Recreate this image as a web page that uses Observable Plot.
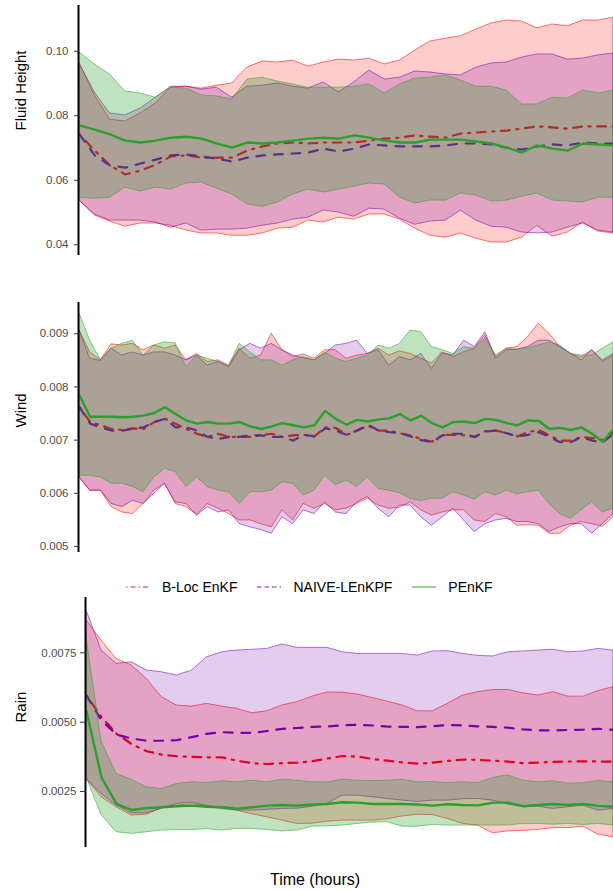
<!DOCTYPE html>
<html><head><meta charset="utf-8">
<script src="https://cdn.jsdelivr.net/npm/d3@7"></script>
<script src="https://cdn.jsdelivr.net/npm/@observablehq/plot@0.6"></script>
<style>
body{margin:0;background:#fff;font-family:"Liberation Sans",Arial,sans-serif;}
#fig{position:relative;width:613px;height:891px;overflow:hidden;background:#fff;}
.panel{position:absolute;left:0;}
#legend{position:absolute;top:579px;left:126px;display:flex;align-items:center;font-size:14px;line-height:16px;color:#000;white-space:nowrap;}
#xtitle{position:absolute;top:871px;left:315px;transform:translateX(-50%);font-size:16px;line-height:17px;color:#000;white-space:nowrap;}
</style></head>
<body><div id="fig"></div>
<script>
// ---------- series names ----------
const seriesNames = ["B-Loc EnKF", "NAIVE-LEnKPF", "PEnKF"];
const xTitle = "Time (hours)";
const panelLabels = ["Fluid Height", "Wind", "Rain"];

// ---------- time samples ----------
const hours36 = [0,1,2,3,4,5,6,7,8,9,10,11,12,13,14,15,16,17,18,19,20,21,22,23,24,25,26,27,28,29,30,31,32,33,34,35];
const hours51 = [0,0.7,1.4,2.1,2.8,3.5,4.2,4.9,5.6,6.3,7,7.7,8.4,9.1,9.8,10.5,11.2,11.9,12.6,13.3,14,14.7,15.4,16.1,16.8,17.5,18.2,18.9,19.6,20.3,21,21.7,22.4,23.1,23.8,24.5,25.2,25.9,26.6,27.3,28,28.7,29.4,30.1,30.8,31.5,32.2,32.9,33.6,34.3,35];

// ---------- Fluid Height ----------
const fhRedHi  = [0.0962,0.0863,0.0788,0.0782,0.0807,0.0838,0.0887,0.0890,0.0884,0.0893,0.0900,0.0949,0.0968,0.0965,0.0971,0.0952,0.0965,0.0974,0.0971,0.0977,0.0959,0.0971,0.1002,0.1030,0.1039,0.1046,0.1067,0.1086,0.1095,0.1092,0.1071,0.1083,0.1077,0.1095,0.1095,0.1104];
const fhRedLo  = [0.0537,0.0491,0.0472,0.0456,0.0466,0.0466,0.0459,0.0444,0.0435,0.0435,0.0428,0.0428,0.0435,0.0450,0.0453,0.0475,0.0469,0.0484,0.0478,0.0494,0.0494,0.0478,0.0450,0.0428,0.0422,0.0435,0.0419,0.0407,0.0407,0.0422,0.0459,0.0425,0.0438,0.0469,0.0441,0.0435];
const fhRedMean= [0.0742,0.0692,0.0646,0.0618,0.0630,0.0649,0.0674,0.0677,0.0670,0.0670,0.0670,0.0692,0.0705,0.0714,0.0717,0.0714,0.0717,0.0717,0.0717,0.0723,0.0729,0.0732,0.0739,0.0735,0.0732,0.0745,0.0748,0.0751,0.0754,0.0760,0.0767,0.0764,0.0760,0.0767,0.0767,0.0767];
const fhPurHi  = [0.0962,0.0872,0.0807,0.0801,0.0822,0.0856,0.0890,0.0890,0.0881,0.0887,0.0856,0.0890,0.0893,0.0900,0.0890,0.0884,0.0903,0.0872,0.0903,0.0940,0.0912,0.0918,0.0937,0.0934,0.0928,0.0925,0.0949,0.0962,0.0965,0.0980,0.0990,0.0990,0.0974,0.0977,0.0987,0.0993];
const fhPurLo  = [0.0537,0.0494,0.0475,0.0475,0.0475,0.0469,0.0453,0.0466,0.0444,0.0447,0.0447,0.0450,0.0459,0.0466,0.0478,0.0484,0.0506,0.0500,0.0487,0.0512,0.0509,0.0481,0.0462,0.0472,0.0475,0.0506,0.0475,0.0456,0.0453,0.0438,0.0435,0.0438,0.0453,0.0466,0.0444,0.0438];
const fhPurMean= [0.0742,0.0677,0.0646,0.0639,0.0652,0.0664,0.0677,0.0680,0.0674,0.0667,0.0658,0.0670,0.0677,0.0680,0.0683,0.0686,0.0698,0.0689,0.0698,0.0711,0.0708,0.0705,0.0705,0.0705,0.0708,0.0714,0.0714,0.0711,0.0701,0.0695,0.0705,0.0711,0.0708,0.0717,0.0714,0.0714];
const fhGrnHi  = [0.0996,0.0959,0.0928,0.0875,0.0869,0.0856,0.0887,0.0884,0.0863,0.0860,0.0850,0.0912,0.0918,0.0906,0.0897,0.0887,0.0887,0.0887,0.0890,0.0897,0.0869,0.0897,0.0915,0.0918,0.0925,0.0909,0.0890,0.0890,0.0878,0.0835,0.0835,0.0856,0.0853,0.0878,0.0869,0.0878];
const fhGrnLo  = [0.0546,0.0543,0.0546,0.0577,0.0565,0.0577,0.0571,0.0590,0.0593,0.0574,0.0556,0.0525,0.0518,0.0531,0.0556,0.0571,0.0562,0.0571,0.0580,0.0590,0.0587,0.0546,0.0528,0.0537,0.0537,0.0559,0.0553,0.0534,0.0537,0.0549,0.0559,0.0537,0.0534,0.0531,0.0546,0.0546];
const fhGrnMean= [0.0770,0.0757,0.0742,0.0723,0.0717,0.0723,0.0732,0.0735,0.0729,0.0714,0.0701,0.0717,0.0714,0.0717,0.0723,0.0729,0.0732,0.0729,0.0739,0.0732,0.0723,0.0717,0.0717,0.0726,0.0726,0.0726,0.0720,0.0714,0.0701,0.0686,0.0708,0.0698,0.0692,0.0714,0.0711,0.0708];

// ---------- Wind ----------
const wRedHi  = [0.00906,0.00865,0.00850,0.00880,0.00878,0.00881,0.00869,0.00878,0.00872,0.00878,0.00850,0.00862,0.00847,0.00850,0.00840,0.00872,0.00853,0.00859,0.00900,0.00869,0.00856,0.00861,0.00853,0.00869,0.00869,0.00853,0.00859,0.00862,0.00872,0.00859,0.00867,0.00862,0.00853,0.00844,0.00865,0.00856,0.00865,0.00872,0.00897,0.00856,0.00872,0.00875,0.00894,0.00919,0.00900,0.00875,0.00862,0.00856,0.00869,0.00847,0.00859];
const wRedLo  = [0.00630,0.00605,0.00605,0.00574,0.00564,0.00561,0.00580,0.00605,0.00618,0.00580,0.00574,0.00560,0.00580,0.00571,0.00561,0.00549,0.00549,0.00542,0.00536,0.00568,0.00549,0.00580,0.00571,0.00580,0.00568,0.00571,0.00580,0.00590,0.00577,0.00571,0.00573,0.00583,0.00568,0.00558,0.00564,0.00568,0.00568,0.00549,0.00546,0.00561,0.00555,0.00539,0.00540,0.00539,0.00524,0.00524,0.00539,0.00546,0.00542,0.00537,0.00555];
const wRedMean= [0.00762,0.00734,0.00728,0.00721,0.00719,0.00722,0.00721,0.00734,0.00740,0.00731,0.00721,0.00712,0.00706,0.00712,0.00706,0.00706,0.00706,0.00709,0.00712,0.00706,0.00709,0.00710,0.00707,0.00724,0.00723,0.00710,0.00718,0.00727,0.00718,0.00718,0.00713,0.00709,0.00702,0.00697,0.00710,0.00710,0.00709,0.00706,0.00717,0.00718,0.00713,0.00707,0.00715,0.00719,0.00709,0.00699,0.00699,0.00706,0.00704,0.00700,0.00715];
const wPurHi  = [0.00906,0.00853,0.00849,0.00872,0.00859,0.00865,0.00859,0.00865,0.00865,0.00859,0.00850,0.00859,0.00840,0.00847,0.00837,0.00869,0.00881,0.00872,0.00881,0.00869,0.00859,0.00854,0.00850,0.00862,0.00878,0.00881,0.00887,0.00862,0.00869,0.00840,0.00856,0.00850,0.00862,0.00834,0.00863,0.00859,0.00887,0.00875,0.00903,0.00853,0.00869,0.00870,0.00875,0.00887,0.00887,0.00875,0.00863,0.00850,0.00869,0.00850,0.00862];
const wPurLo  = [0.00630,0.00605,0.00605,0.00580,0.00574,0.00586,0.00580,0.00599,0.00618,0.00583,0.00580,0.00558,0.00574,0.00564,0.00568,0.00542,0.00536,0.00531,0.00524,0.00555,0.00542,0.00568,0.00561,0.00583,0.00564,0.00561,0.00583,0.00593,0.00571,0.00555,0.00577,0.00577,0.00555,0.00539,0.00555,0.00571,0.00549,0.00527,0.00542,0.00549,0.00552,0.00546,0.00546,0.00542,0.00527,0.00536,0.00542,0.00542,0.00524,0.00542,0.00561];
const wPurMean= [0.00762,0.00731,0.00724,0.00718,0.00718,0.00721,0.00724,0.00734,0.00740,0.00724,0.00724,0.00718,0.00706,0.00702,0.00706,0.00706,0.00709,0.00709,0.00706,0.00706,0.00699,0.00710,0.00707,0.00722,0.00718,0.00710,0.00718,0.00729,0.00718,0.00715,0.00713,0.00707,0.00700,0.00696,0.00709,0.00712,0.00712,0.00706,0.00716,0.00718,0.00713,0.00707,0.00710,0.00715,0.00706,0.00696,0.00696,0.00706,0.00699,0.00696,0.00712];
const wGrnHi  = [0.00938,0.00887,0.00850,0.00872,0.00881,0.00887,0.00859,0.00878,0.00884,0.00882,0.00837,0.00859,0.00853,0.00847,0.00840,0.00881,0.00865,0.00850,0.00850,0.00840,0.00850,0.00856,0.00850,0.00865,0.00853,0.00847,0.00853,0.00859,0.00878,0.00872,0.00881,0.00906,0.00903,0.00875,0.00869,0.00862,0.00875,0.00872,0.00891,0.00859,0.00872,0.00870,0.00873,0.00878,0.00884,0.00878,0.00862,0.00859,0.00859,0.00872,0.00884];
const wGrnLo  = [0.00633,0.00633,0.00630,0.00618,0.00618,0.00612,0.00602,0.00630,0.00646,0.00640,0.00612,0.00630,0.00612,0.00605,0.00602,0.00580,0.00602,0.00602,0.00605,0.00621,0.00618,0.00596,0.00605,0.00633,0.00615,0.00624,0.00612,0.00630,0.00608,0.00605,0.00600,0.00590,0.00585,0.00590,0.00590,0.00602,0.00596,0.00588,0.00602,0.00596,0.00605,0.00598,0.00602,0.00605,0.00580,0.00561,0.00552,0.00568,0.00583,0.00564,0.00571];
const wGrnMean= [0.00784,0.00744,0.00744,0.00744,0.00743,0.00744,0.00746,0.00751,0.00762,0.00749,0.00737,0.00731,0.00734,0.00731,0.00731,0.00734,0.00726,0.00721,0.00726,0.00732,0.00728,0.00724,0.00728,0.00755,0.00740,0.00729,0.00738,0.00735,0.00739,0.00741,0.00749,0.00737,0.00746,0.00732,0.00724,0.00734,0.00735,0.00732,0.00740,0.00738,0.00732,0.00728,0.00737,0.00736,0.00721,0.00723,0.00719,0.00724,0.00712,0.00697,0.00721];

// ---------- Rain ----------
const rRedHi  = [0.00867,0.00794,0.00728,0.00704,0.00656,0.00590,0.00560,0.00556,0.00566,0.00556,0.00548,0.00532,0.00539,0.00560,0.00572,0.00592,0.00607,0.00606,0.00600,0.00587,0.00574,0.00560,0.00539,0.00539,0.00566,0.00596,0.00608,0.00616,0.00616,0.00604,0.00596,0.00608,0.00592,0.00592,0.00612,0.00626];
const rRedLo  = [0.00295,0.00229,0.00193,0.00163,0.00166,0.00190,0.00199,0.00204,0.00198,0.00190,0.00181,0.00168,0.00157,0.00145,0.00133,0.00134,0.00141,0.00145,0.00145,0.00145,0.00150,0.00160,0.00166,0.00165,0.00151,0.00133,0.00127,0.00099,0.00106,0.00108,0.00111,0.00118,0.00118,0.00123,0.00094,0.00085];
const rRedMean= [0.00596,0.00518,0.00458,0.00421,0.00395,0.00383,0.00377,0.00375,0.00373,0.00373,0.00361,0.00352,0.00349,0.00352,0.00354,0.00359,0.00369,0.00378,0.00376,0.00367,0.00361,0.00355,0.00350,0.00354,0.00360,0.00365,0.00364,0.00361,0.00358,0.00352,0.00354,0.00357,0.00358,0.00359,0.00358,0.00358];
const rPurHi  = [0.00903,0.00758,0.00710,0.00716,0.00686,0.00680,0.00668,0.00686,0.00734,0.00752,0.00758,0.00761,0.00764,0.00780,0.00768,0.00768,0.00768,0.00752,0.00746,0.00746,0.00746,0.00746,0.00740,0.00755,0.00756,0.00746,0.00739,0.00737,0.00752,0.00755,0.00758,0.00761,0.00752,0.00755,0.00764,0.00758];
const rPurLo  = [0.00295,0.00241,0.00199,0.00171,0.00171,0.00187,0.00205,0.00210,0.00197,0.00186,0.00181,0.00181,0.00184,0.00187,0.00188,0.00195,0.00205,0.00235,0.00235,0.00229,0.00223,0.00217,0.00212,0.00217,0.00217,0.00222,0.00223,0.00217,0.00203,0.00193,0.00195,0.00187,0.00193,0.00199,0.00181,0.00187];
const rPurMean= [0.00596,0.00506,0.00455,0.00441,0.00433,0.00433,0.00435,0.00446,0.00458,0.00464,0.00461,0.00461,0.00468,0.00476,0.00479,0.00483,0.00484,0.00489,0.00490,0.00488,0.00484,0.00483,0.00482,0.00485,0.00490,0.00488,0.00485,0.00483,0.00480,0.00474,0.00470,0.00470,0.00472,0.00473,0.00476,0.00472];
const rGrnHi  = [0.00806,0.00430,0.00313,0.00292,0.00265,0.00259,0.00277,0.00283,0.00280,0.00287,0.00283,0.00289,0.00283,0.00293,0.00289,0.00283,0.00282,0.00293,0.00289,0.00287,0.00289,0.00292,0.00283,0.00284,0.00280,0.00283,0.00280,0.00299,0.00308,0.00289,0.00283,0.00287,0.00278,0.00280,0.00288,0.00283];
const rGrnLo  = [0.00301,0.00165,0.00103,0.00097,0.00103,0.00109,0.00111,0.00111,0.00114,0.00109,0.00115,0.00115,0.00111,0.00106,0.00109,0.00123,0.00124,0.00127,0.00133,0.00138,0.00139,0.00123,0.00123,0.00129,0.00127,0.00127,0.00127,0.00127,0.00127,0.00133,0.00133,0.00130,0.00133,0.00129,0.00133,0.00127];
const rGrnMean= [0.00539,0.00300,0.00205,0.00183,0.00190,0.00193,0.00197,0.00199,0.00195,0.00193,0.00188,0.00193,0.00199,0.00201,0.00199,0.00203,0.00205,0.00211,0.00210,0.00205,0.00205,0.00205,0.00203,0.00199,0.00204,0.00201,0.00200,0.00210,0.00210,0.00197,0.00201,0.00205,0.00201,0.00205,0.00198,0.00195];

// ---------- tick values ----------
const fhTicks = [0.04, 0.06, 0.08, 0.10];
const wTicks = [0.005, 0.006, 0.007, 0.008, 0.009];
const rTicks = [0.0025, 0.0050, 0.0075];

// ---------- styling ----------
const styles = [
  {color: "#ff0000", alpha: 0.2, dash: "2.2,6.6,8.8,6.6", lw: 2.2, legendDash: "1.5,3,5,3"},
  {color: "#7800aa", alpha: 0.2, dash: "8.8,8.8", lw: 2.2, legendDash: "4.5,3"},
  {color: "#2ca02c", alpha: 0.3, dash: undefined, lw: 2.4, legendDash: undefined}
];
const font = "Liberation Sans, Arial, sans-serif";

function rows(time, lo, hi, mean) {
  return time.map((t, i) => ({t, lo: lo[i], hi: hi[i], mean: mean[i]}));
}

function panel(cfg) {
  const marks = [];
  cfg.sets.forEach((d, k) => {
    const s = styles[k];
    marks.push(Plot.areaY(d, {x: "t", y1: "lo", y2: "hi", fill: s.color, fillOpacity: s.alpha,
      stroke: s.color, strokeWidth: 0.6, strokeOpacity: 0.9}));
    marks.push(Plot.lineY(d, {x: "t", y: "mean", stroke: s.color, strokeWidth: s.lw,
      strokeDasharray: s.dash}));
  });
  marks.push(Plot.ruleX([cfg.time[0]], {stroke: "#000", strokeWidth: 2, dx: -1}));
  marks.push(Plot.axisY({ticks: cfg.ticks, tickFormat: d3.format(cfg.fmt), tickSize: cfg.tickSize,
    tickPadding: cfg.tickPadding, stroke: "#333", fill: "#4d4d4d", fontSize: 11.5, label: null}));
  marks.push(Plot.text([cfg.label], {text: d => d, frameAnchor: "left", dx: cfg.labelDx, rotate: -90,
    fontSize: 15, fill: "#000"}));
  const svg = Plot.plot({
    width: 613, height: 260,
    marginLeft: cfg.ml, marginRight: 0, marginTop: 5, marginBottom: 5,
    x: {domain: [cfg.time[0], cfg.time[cfg.time.length - 1]], axis: null},
    y: {domain: cfg.domain, label: null},
    style: {fontFamily: font, fontSize: "11.5px", background: "transparent", overflow: "visible"},
    marks
  });
  svg.setAttribute("class", "panel");
  svg.style.top = cfg.top + "px";
  return svg;
}

const fig = document.getElementById("fig");

fig.appendChild(panel({
  time: hours36, top: 0, ml: 79, domain: [0.03668, 0.11417], ticks: fhTicks, fmt: ".2f",
  tickSize: 5, tickPadding: 6, label: panelLabels[0], labelDx: -58.5,
  sets: [rows(hours36, fhRedLo, fhRedHi, fhRedMean), rows(hours36, fhPurLo, fhPurHi, fhPurMean), rows(hours36, fhGrnLo, fhGrnHi, fhGrnMean)]
}));

fig.appendChild(panel({
  time: hours51, top: 297, ml: 79, domain: [0.004887, 0.009588], ticks: wTicks, fmt: ".3f",
  tickSize: 5, tickPadding: 6, label: panelLabels[1], labelDx: -58,
  sets: [rows(hours51, wRedLo, wRedHi, wRedMean), rows(hours51, wPurLo, wPurHi, wPurMean), rows(hours51, wGrnLo, wGrnHi, wGrnMean)]
}));

fig.appendChild(panel({
  time: hours36, top: 592, ml: 86, domain: [0.00048, 0.009495], ticks: rTicks, fmt: ".4f",
  tickSize: 6, tickPadding: 4, label: panelLabels[2], labelDx: -65,
  sets: [rows(hours36, rRedLo, rRedHi, rRedMean), rows(hours36, rPurLo, rPurHi, rPurMean), rows(hours36, rGrnLo, rGrnHi, rGrnMean)]
}));

// ---------- legend ----------
const legend = d3.select(fig).append("div").attr("id", "legend");
seriesNames.forEach((name, k) => {
  const s = styles[k];
  const item = legend.append("div").style("display", "flex").style("align-items", "center")
    .style("margin-right", k < seriesNames.length - 1 ? "20px" : "0px");
  const sw = item.append("svg").attr("width", 24).attr("height", 10);
  sw.append("line").attr("x1", 0).attr("x2", 24).attr("y1", 5).attr("y2", 5)
    .attr("stroke", s.color).attr("stroke-opacity", 0.6).attr("stroke-width", 1.6)
    .attr("stroke-dasharray", s.legendDash || null);
  item.append("span").style("margin-left", "12px").text(name);
});

// ---------- x title ----------
d3.select(fig).append("div").attr("id", "xtitle").text(xTitle);
</script>
</body></html>
